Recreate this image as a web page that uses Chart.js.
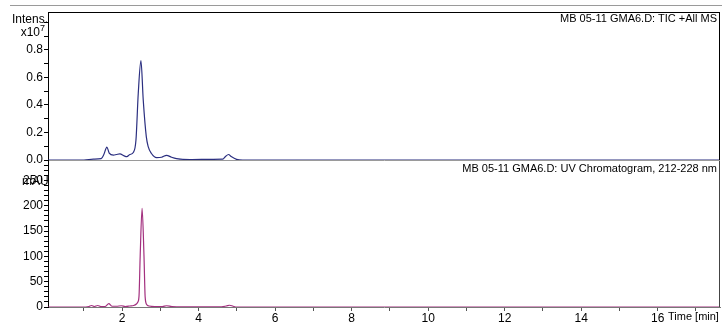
<!DOCTYPE html>
<html lang="en">
<head>
<meta charset="UTF-8">
<title>MB 05-11 GMA6.D</title>
<script src="https://cdn.jsdelivr.net/npm/chart.js"></script>
<style>
    body { margin: 0; background: #fff; font-family: 'Liberation Sans', Arial, sans-serif; }
    .wrap { position: relative; width: 722px; height: 325px; overflow: hidden; }
    .wrap canvas { position: absolute; left: 0; }
    #ticChart { top: 0; }
    #uvChart { top: 160px; }
    .rule { position: absolute; left: 10px; width: 712px; top: 5px; border-top: 1px solid #9a9a9a; }
    .lbl { position: absolute; font-size: 12px; line-height: 12px; color: #000; white-space: nowrap; }
    .lbl.small { font-size: 11px; line-height: 11px; }
    .lbl sup { font-size: 9px; vertical-align: 5px; line-height: 0; }
</style>
</head>
<body>
<div class="wrap">
    <div class="rule"></div>
    <canvas id="ticChart" width="722" height="170"></canvas>
    <canvas id="uvChart" width="722" height="165"></canvas>
    <div class="lbl" style="right:674px; top:13px;">Intens.</div>
    <div class="lbl" style="right:677px; top:26px;">x10<sup>7</sup></div>
    <div class="lbl small" style="right:5px; top:13px;">MB 05-11 GMA6.D: TIC +All MS</div>
    <div class="lbl" style="left:22px; top:175px;">mAU</div>
    <div class="lbl small" style="right:5px; top:163px;">MB 05-11 GMA6.D: UV Chromatogram, 212-228 nm</div>
    <div class="lbl small" style="left:668px; top:311px;">Time [min]</div>
</div>

<script>
    // time axis
    const xMin = 0.06, xMax = 17.63;
    const xTicks = [1, 2, 3, 4, 5, 6, 7, 8, 9, 10, 11, 12, 13, 14, 15, 16, 17];
    const xLabels = ['2', '4', '6', '8', '10', '12', '14', '16'];

    // TIC trace, intensity x10^7
    const ticTime = [0.06, 1.0, 1.25, 1.45, 1.52, 1.60, 1.66, 1.77, 1.85, 1.94, 2.05, 2.12, 2.20, 2.29,
        2.36, 2.42, 2.49, 2.55, 2.63, 2.68, 2.76, 2.90, 3.03, 3.16, 3.29, 3.42, 3.77, 4.37, 4.63,
        4.70, 4.78, 4.85, 4.99, 5.15, 17.63];
    const ticValue = [0, 0, 0.006, 0.01, 0.04, 0.094, 0.05, 0.036, 0.04, 0.044, 0.03, 0.024, 0.04, 0.055,
        0.145, 0.485, 0.722, 0.436, 0.17, 0.097, 0.049, 0.017, 0.02, 0.034, 0.02, 0.01, 0.003, 0.005, 0.006,
        0.025, 0.04, 0.025, 0.005, 0, 0];
    const ticMax = 1.076;
    const ticTicks = [0, 0.1, 0.2, 0.3, 0.4, 0.5, 0.6, 0.7, 0.8, 0.9, 1.0];
    const ticMajor = [0, 0.2, 0.4, 0.6, 0.8];
    const ticLabels = ['0.0', '0.2', '0.4', '0.6', '0.8'];

    // UV trace, mAU
    const uvTime = [0.06, 1.05, 1.13, 1.20, 1.27, 1.36, 1.44, 1.55, 1.65, 1.73, 1.85, 1.98, 2.08, 2.20,
        2.30, 2.37, 2.41, 2.44, 2.47, 2.52, 2.57, 2.60, 2.64, 2.70, 2.85, 3.05, 3.16, 3.30, 3.6, 4.6,
        4.72, 4.81, 4.90, 5.0, 17.63];
    const uvValue = [0, 0, 1, 3, 1, 3, 1, 1, 6.5, 1.5, 1.5, 2.5, 1, 2,
        3, 6, 10, 22, 100, 195, 100, 20, 5, 2, 1, 1, 2.5, 1, 0.5, 0.5,
        2, 3.5, 1.5, 0, 0];
    const uvMax = 288.5;
    const uvTicks = [0, 10, 20, 30, 40, 50, 60, 70, 80, 90, 100, 110, 120, 130, 140, 150, 160, 170, 180,
        190, 200, 210, 220, 230, 240, 250, 260, 270, 280];
    const uvMajor = [0, 50, 100, 150, 200, 250];
    const uvLabels = ['0', '50', '100', '150', '200', '250'];

    const font = { family: "'Liberation Sans', Arial, sans-serif", size: 12 };

    function pick(major, labels) {
        return v => {
            const i = major.findIndex(m => Math.abs(m - v) < 1e-6);
            return i < 0 ? '' : labels[i];
        };
    }

    // box lines round the plot area
    const frame = {
        id: 'frame',
        afterDraw(chart, args, opts) {
            const { ctx, chartArea: a } = chart;
            ctx.save();
            ctx.strokeStyle = opts.color;
            ctx.lineWidth = 1;
            ctx.beginPath();
            if (opts.top) { ctx.moveTo(a.left, a.top + 0.5); ctx.lineTo(a.right, a.top + 0.5); }
            if (opts.right) { ctx.moveTo(a.right - 0.5, a.top); ctx.lineTo(a.right - 0.5, a.bottom); }
            ctx.stroke();
            ctx.restore();
        }
    };

    function yAxis(max, ticks, major, labels, zeroLine) {
        return {
            min: 0,
            max: max,
            afterFit: s => { s.width = 48; s.paddingTop = 0; s.paddingBottom = 0; },
            afterBuildTicks: s => { s.ticks = ticks.map(v => ({ value: v })); },
            border: { color: '#000', width: 1 },
            grid: {
                drawOnChartArea: zeroLine,
                color: c => (c.tick && c.tick.value === 0) ? '#9a9a9a' : 'rgba(0,0,0,0)',
                tickColor: '#000',
                tickLength: 4
            },
            ticks: { autoSkip: false, padding: 1, color: '#000', font: font, callback: pick(major, labels) }
        };
    }

    new Chart(document.getElementById('ticChart'), {
        type: 'line',
        data: {
            datasets: [{
                data: ticTime.map((t, i) => ({ x: t, y: ticValue[i] })),
                borderColor: '#2b2f80',
                borderWidth: 1.2,
                pointRadius: 0,
                cubicInterpolationMode: 'monotone'
            }]
        },
        options: {
            responsive: false,
            animation: false,
            layout: { padding: { top: 12, right: 2, bottom: 10, left: 0 } },
            plugins: { legend: { display: false }, tooltip: { enabled: false }, frame: { color: '#000', top: true, right: true } },
            scales: {
                x: { type: 'linear', min: xMin, max: xMax, display: false },
                y: yAxis(ticMax, ticTicks, ticMajor, ticLabels, true)
            }
        },
        plugins: [frame]
    });

    new Chart(document.getElementById('uvChart'), {
        type: 'line',
        data: {
            datasets: [{
                data: uvTime.map((t, i) => ({ x: t, y: uvValue[i] })),
                borderColor: '#a3307f',
                borderWidth: 1.2,
                pointRadius: 0,
                cubicInterpolationMode: 'monotone'
            }]
        },
        options: {
            responsive: false,
            animation: false,
            layout: { padding: { top: 1, right: 2, bottom: 0, left: 0 } },
            plugins: { legend: { display: false }, tooltip: { enabled: false }, frame: { color: '#444', top: false, right: true } },
            scales: {
                x: {
                    type: 'linear',
                    min: xMin,
                    max: xMax,
                    afterFit: s => { s.height = 18; s.paddingLeft = 0; s.paddingRight = 0; },
                    afterBuildTicks: s => { s.ticks = xTicks.map(v => ({ value: v })); },
                    border: { color: '#777', width: 1 },
                    grid: { drawOnChartArea: false, tickColor: '#555', tickLength: 4 },
                    ticks: { autoSkip: false, maxRotation: 0, padding: 0, color: '#000', font: font, callback: pick(xTicks.filter(v => v % 2 === 0), xLabels) }
                },
                y: yAxis(uvMax, uvTicks, uvMajor, uvLabels, false)
            }
        },
        plugins: [frame]
    });
</script>
</body>
</html>
